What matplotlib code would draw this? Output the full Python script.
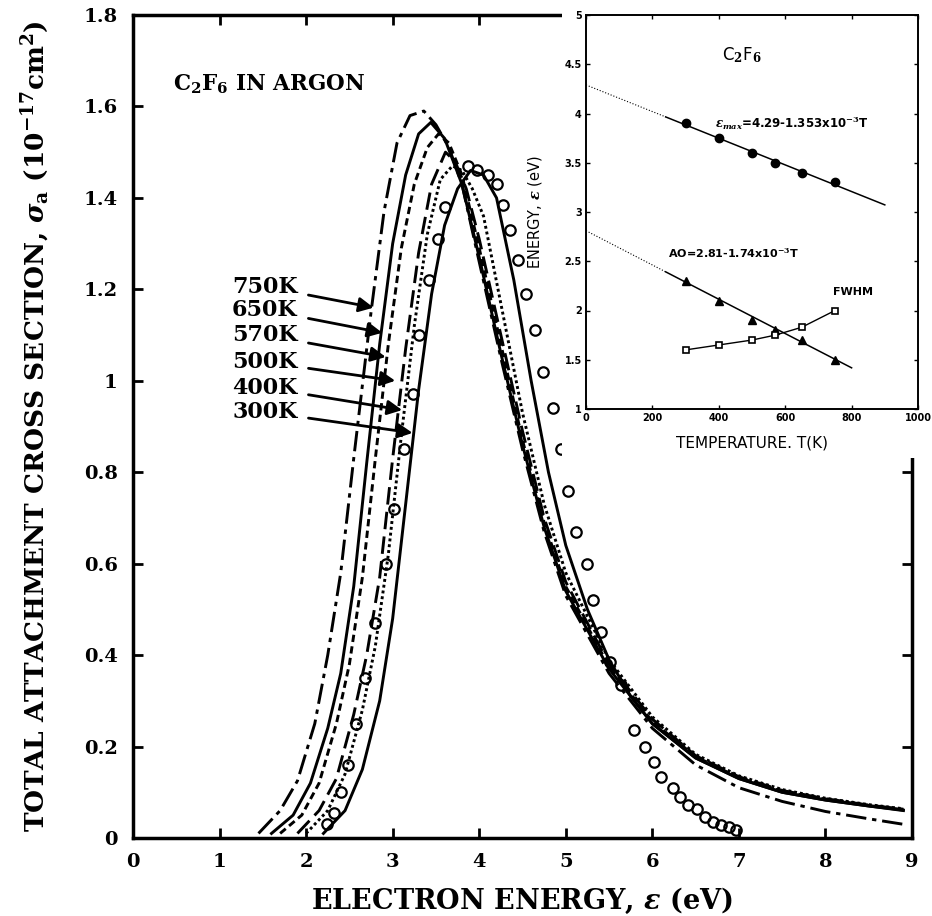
import numpy as np
import matplotlib.pyplot as plt
from matplotlib.patches import Rectangle

plt.rcParams['font.family'] = ['DejaVu Serif']
plt.rcParams['font.weight'] = 'bold'
plt.rcParams['mathtext.fontset'] = 'custom'
plt.rcParams['mathtext.rm'] = 'DejaVu Serif:bold'
plt.rcParams['mathtext.it'] = 'DejaVu Serif:italic:bold'
plt.rcParams['mathtext.bf'] = 'DejaVu Serif:bold'

# main panel: calculated cross sections for each gas temperature
e_750 = [1.45, 1.7, 1.9, 2.1, 2.25, 2.4, 2.55, 2.75, 2.9, 3.05, 3.2, 3.36, 3.5, 3.65, 3.8,
         4.0, 4.25, 4.5, 4.75, 5.0, 5.5, 6.0, 6.5, 7.0, 7.5, 8.0, 8.5, 8.9]
s_750 = [0.01, 0.06, 0.125, 0.25, 0.40, 0.58, 0.83, 1.15, 1.37, 1.52, 1.58, 1.59, 1.56, 1.51, 1.43,
         1.26, 1.05, 0.85, 0.67, 0.53, 0.36, 0.24, 0.16, 0.11, 0.08, 0.058, 0.042, 0.03]
e_650 = [1.6, 1.85, 2.05, 2.25, 2.4, 2.55, 2.7, 2.85, 3.0, 3.15, 3.3, 3.44, 3.6, 3.8,
         4.0, 4.25, 4.5, 4.75, 5.0, 5.5, 6.0, 6.5, 7.0, 7.5, 8.0, 8.5, 8.9]
s_650 = [0.01, 0.05, 0.12, 0.24, 0.36, 0.55, 0.82, 1.08, 1.30, 1.45, 1.54, 1.565, 1.53, 1.43,
         1.27, 1.06, 0.86, 0.68, 0.54, 0.37, 0.25, 0.175, 0.13, 0.10, 0.083, 0.07, 0.06]
e_570 = [1.7, 1.95, 2.15, 2.35, 2.5, 2.65, 2.8, 2.95, 3.1, 3.25, 3.4, 3.53, 3.65, 3.8,
         4.0, 4.25, 4.5, 4.75, 5.0, 5.5, 6.0, 6.5, 7.0, 7.5, 8.0, 8.5, 8.9]
s_570 = [0.01, 0.05, 0.12, 0.25, 0.38, 0.57, 0.83, 1.08, 1.29, 1.43, 1.51, 1.54, 1.52, 1.45,
         1.29, 1.08, 0.87, 0.69, 0.55, 0.375, 0.255, 0.178, 0.132, 0.102, 0.085, 0.071, 0.062]
e_500 = [1.9, 2.15, 2.35, 2.55, 2.7, 2.85, 3.0, 3.15, 3.3, 3.45, 3.61, 3.72, 3.85,
         4.0, 4.25, 4.5, 4.75, 5.0, 5.5, 6.0, 6.5, 7.0, 7.5, 8.0, 8.5, 8.9]
s_500 = [0.01, 0.06, 0.13, 0.27, 0.40, 0.57, 0.83, 1.07, 1.28, 1.43, 1.50, 1.48, 1.42,
         1.31, 1.10, 0.89, 0.70, 0.56, 0.38, 0.26, 0.18, 0.134, 0.104, 0.086, 0.072, 0.063]
e_400 = [2.0, 2.25, 2.45, 2.65, 2.8, 2.95, 3.1, 3.25, 3.4, 3.55, 3.69, 3.8, 3.92,
         4.05, 4.28, 4.5, 4.75, 5.0, 5.5, 6.0, 6.5, 7.0, 7.5, 8.0, 8.5, 8.9]
s_400 = [0.01, 0.06, 0.14, 0.28, 0.42, 0.62, 0.88, 1.12, 1.32, 1.44, 1.47, 1.46, 1.42,
         1.36, 1.14, 0.93, 0.73, 0.58, 0.39, 0.265, 0.183, 0.136, 0.106, 0.087, 0.073, 0.064]
e_300 = [2.2, 2.45, 2.65, 2.85, 3.0, 3.15, 3.3, 3.45, 3.6, 3.75, 3.9, 4.05, 4.2, 4.4,
         4.6, 4.8, 5.0, 5.25, 5.5, 5.75, 6.0, 6.5, 7.0, 7.5, 8.0, 8.5, 8.9]
s_300 = [0.01, 0.06, 0.15, 0.30, 0.48, 0.73, 0.98, 1.19, 1.34, 1.42, 1.46, 1.45, 1.40, 1.22,
         1.00, 0.80, 0.64, 0.50, 0.39, 0.31, 0.25, 0.175, 0.13, 0.10, 0.083, 0.07, 0.061]

# open circles
e_exp = [2.24, 2.32, 2.40, 2.48, 2.58, 2.68, 2.80, 2.92, 3.02, 3.13, 3.23, 3.31, 3.42, 3.52, 3.60,
         3.87, 3.98, 4.10, 4.21, 4.27, 4.35, 4.45, 4.54, 4.65, 4.74, 4.85, 4.94, 5.03, 5.12,
         5.24, 5.32, 5.41, 5.51, 5.64, 5.79, 5.91, 6.02, 6.10, 6.24, 6.32, 6.41, 6.52, 6.61,
         6.70, 6.79, 6.89, 6.97]
s_exp = [0.03, 0.055, 0.10, 0.16, 0.25, 0.35, 0.47, 0.60, 0.72, 0.85, 0.97, 1.10, 1.22, 1.31, 1.38,
         1.47, 1.46, 1.45, 1.43, 1.385, 1.33, 1.265, 1.19, 1.11, 1.02, 0.94, 0.85, 0.76, 0.67,
         0.60, 0.52, 0.45, 0.385, 0.335, 0.236, 0.20, 0.166, 0.133, 0.11, 0.09, 0.072, 0.063, 0.047,
         0.035, 0.028, 0.024, 0.018]

# inset: temperature dependence
temps = [300, 400, 500, 570, 650, 750]
emax = [3.9, 3.75, 3.6, 3.5, 3.4, 3.3]
a0 = [2.3, 2.1, 1.9, 1.8, 1.7, 1.5]
fwhm = [1.6, 1.65, 1.7, 1.75, 1.83, 2.0]
emax_fit = (4.29, 1.353e-3)
a0_fit = (2.81, 1.74e-3)

fig = plt.figure(figsize=(9.32, 9.16), dpi=100)
ax = fig.add_axes([133/932, 1-838/916, 779/932, 823/916])

curves = [
    ('750K', e_750, s_750, (0, (7, 2, 1.5, 2))),
    ('650K', e_650, s_650, '-'),
    ('570K', e_570, s_570, (0, (2.5, 1.5))),
    ('500K', e_500, s_500, (0, (6, 2.5))),
    ('400K', e_400, s_400, (0, (1, 1))),
    ('300K', e_300, s_300, '-'),
]
for name, e, s, ls in curves:
    ax.plot(e, s, color='black', lw=2.1, ls=ls)

ax.plot(e_exp, s_exp, 'o', mfc='none', mec='black', ms=7.5, mew=1.6)

# labels with arrows
lab_y = [1.206, 1.155, 1.10, 1.041, 0.985, 0.932]
tips = [(2.78, 1.16), (2.88, 1.105), (2.92, 1.052), (3.03, 1.0), (3.11, 0.936), (3.23, 0.886)]
for (name, e, s, ls), yy, tip in zip(curves, lab_y, tips):
    ax.annotate(name, xy=tip, xytext=(1.90, yy), ha='right', va='center', fontsize=16,
                fontweight='bold',
                arrowprops=dict(arrowstyle='-|>', color='black', lw=2, mutation_scale=22,
                                shrinkA=6, shrinkB=0))

ax.text(0.46, 1.648, r'C$_2$F$_6$ IN ARGON', fontsize=15.5, fontweight='bold', va='center')

ax.set_xlim(0, 9)
ax.set_ylim(0, 1.8)
ax.set_xticks(range(10))
ax.set_yticks(np.arange(0, 1.81, 0.2))
ax.set_yticklabels(['0', '0.2', '0.4', '0.6', '0.8', '1', '1.2', '1.4', '1.6', '1.8'])
ax.tick_params(direction='in', length=7, width=2, top=True, right=True, labelsize=14)
ax.tick_params(axis='x', pad=11)
ax.tick_params(axis='y', pad=11)
for sp in ax.spines.values():
    sp.set_linewidth(2.5)
ax.set_xlabel(r'ELECTRON ENERGY, $\varepsilon$ (eV)', fontsize=19.5, fontweight='bold')
ax.set_ylabel(r'TOTAL ATTACHMENT CROSS SECTION, $\sigma_{\rm a}$ (10$^{-17}$cm$^{2}$)',
              fontsize=19, fontweight='bold')
ax.xaxis.set_label_coords(0.5, -0.058)
ax.yaxis.set_label_coords(-0.104, 0.5)

# white area behind inset
fig.add_artist(Rectangle((562/932, 1-458/916), 370/932, 458/916, transform=fig.transFigure,
                         facecolor='white', edgecolor='none', zorder=1))

ins = fig.add_axes([586/932, 1-409/916, 332/932, 394/916], zorder=2)
sans = ['DejaVu Sans']
ins.plot(temps, emax, 'o', color='black', ms=6)
ins.plot(temps, a0, '^', color='black', ms=6)
ins.plot(temps, fwhm, 's', mfc='white', mec='black', mew=1.2, color='black', lw=1, ms=5, ls='-')
t_solid = np.array([240, 900])
ins.plot(t_solid, emax_fit[0] - emax_fit[1]*t_solid, color='black', lw=1.1)
ins.plot([0, 240], [emax_fit[0], emax_fit[0] - emax_fit[1]*240], color='black', lw=0.8, ls=':')
t_solid2 = np.array([240, 800])
ins.plot(t_solid2, a0_fit[0] - a0_fit[1]*t_solid2, color='black', lw=1.1)
ins.plot([0, 240], [a0_fit[0], a0_fit[0] - a0_fit[1]*240], color='black', lw=0.8, ls=':')

ins.text(410, 4.59, r'C$_2$F$_6$', fontsize=12, family=sans, fontweight='normal', va='center')
ins.text(389, 3.90, r'$\epsilon_{max}$=4.29-1.353x10$^{-3}$T', fontsize=8.5, family=sans,
         fontweight='bold', va='center')
ins.text(247, 2.58, 'AO=2.81-1.74x10$^{-3}$T', fontsize=8, family=sans, fontweight='bold',
         va='center')
ins.text(744, 2.19, 'FWHM', fontsize=8, family=sans, fontweight='bold', va='center')

ins.set_xlim(0, 1000)
ins.set_ylim(1, 5)
ins.set_xticks(range(0, 1001, 200))
ins.set_yticks(np.arange(1, 5.01, 0.5))
ins.set_yticklabels(['1', '1.5', '2', '2.5', '3', '3.5', '4', '4.5', '5'])
ins.tick_params(direction='in', length=3, width=1, top=True, right=True, labelsize=7, pad=3)
for lab in ins.get_xticklabels() + ins.get_yticklabels():
    lab.set_family(sans)
for sp in ins.spines.values():
    sp.set_linewidth(1.4)
ins.set_xlabel('TEMPERATURE. T(K)', fontsize=11, family=sans, fontweight='normal')
ins.set_ylabel(r'ENERGY, $\epsilon$ (eV)', fontsize=10.5, family=sans, fontweight='normal')
ins.xaxis.set_label_coords(0.5, -0.068)
ins.yaxis.set_label_coords(-0.125, 0.5)

fig.savefig('out.png', dpi=100)
